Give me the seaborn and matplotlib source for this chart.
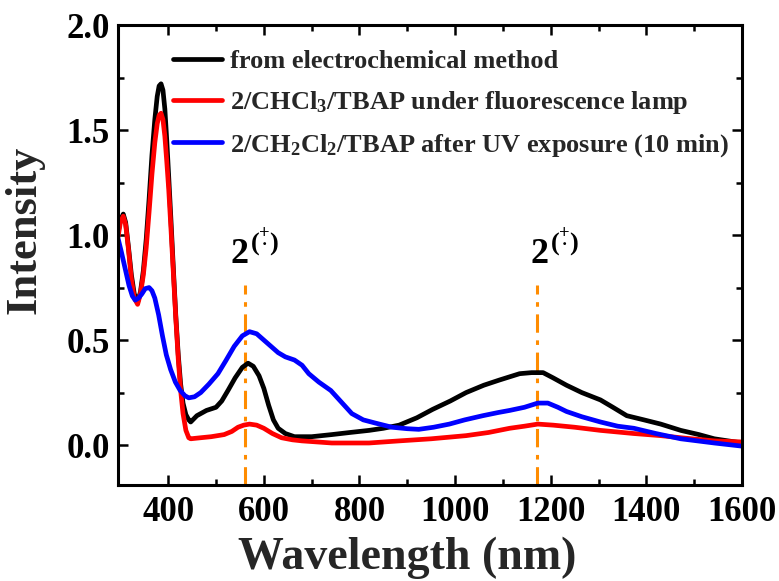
import numpy as np
import pandas as pd
import matplotlib
matplotlib.use("Agg")
import matplotlib.pyplot as plt
import seaborn as sns

# ---- data ----
wl_black = [295, 300, 306, 311, 317, 323, 329, 336, 342, 348, 354, 360, 366, 372, 377, 381, 385,
            389, 393, 397, 401, 406, 411, 416, 421, 426, 431, 437, 443, 447, 460, 480, 500, 512,
            525, 540, 555, 567, 578, 590, 600, 610, 620, 630, 645, 664, 700, 742, 780, 820, 850,
            883, 920, 953, 990, 1023, 1060, 1093, 1135, 1160, 1184, 1205, 1233, 1265, 1304, 1330,
            1359, 1395, 1430, 1472, 1510, 1542, 1600]
int_black = [1.01, 1.07, 1.10, 1.06, 0.94, 0.81, 0.72, 0.68, 0.73, 0.83, 0.98, 1.17, 1.38, 1.55,
             1.66, 1.71, 1.72, 1.69, 1.60, 1.45, 1.28, 1.06, 0.83, 0.61, 0.43, 0.29, 0.20, 0.145,
             0.12, 0.11, 0.14, 0.165, 0.18, 0.21, 0.26, 0.32, 0.37, 0.39, 0.375, 0.33, 0.27, 0.19,
             0.12, 0.08, 0.055, 0.04, 0.04, 0.05, 0.06, 0.07, 0.08, 0.095, 0.13, 0.17, 0.21, 0.25,
             0.285, 0.31, 0.34, 0.345, 0.345, 0.32, 0.285, 0.25, 0.215, 0.18, 0.14, 0.12, 0.10,
             0.07, 0.05, 0.03, 0.01]

wl_red = [295, 300, 306, 311, 317, 323, 329, 336, 342, 348, 354, 360, 366, 372, 377, 381, 385,
          389, 393, 397, 401, 406, 411, 416, 421, 426, 431, 437, 443, 447, 468, 490, 517, 533,
          546, 558, 570, 585, 600, 618, 637, 660, 680, 742, 820, 883, 950, 1023, 1070, 1114,
          1145, 1173, 1205, 1250, 1304, 1374, 1430, 1472, 1542, 1600]
int_red = [0.99, 1.06, 1.09, 1.05, 0.93, 0.79, 0.70, 0.67, 0.72, 0.81, 0.94, 1.11, 1.29, 1.44,
           1.53, 1.57, 1.58, 1.55, 1.47, 1.35, 1.22, 1.02, 0.81, 0.60, 0.41, 0.26, 0.15, 0.07,
           0.035, 0.03, 0.035, 0.04, 0.05, 0.065, 0.085, 0.095, 0.10, 0.095, 0.08, 0.055, 0.035,
           0.025, 0.02, 0.01, 0.01, 0.02, 0.03, 0.045, 0.06, 0.08, 0.09, 0.10, 0.095, 0.085,
           0.07, 0.055, 0.045, 0.035, 0.02, 0.015]

wl_blue = [295, 302, 310, 318, 325, 331, 338, 345, 352, 360, 366, 372, 380, 388, 396, 405, 415,
           425, 435, 443, 455, 468, 485, 504, 520, 538, 555, 570, 585, 600, 615, 630, 645, 664,
           680, 694, 715, 740, 760, 784, 808, 833, 868, 900, 924, 955, 988, 1020, 1058, 1090,
           1114, 1145, 1173, 1194, 1215, 1233, 1265, 1304, 1340, 1374, 1420, 1472, 1542, 1600]
int_blue = [0.985, 0.92, 0.84, 0.76, 0.71, 0.69, 0.70, 0.72, 0.745, 0.75, 0.735, 0.70, 0.62,
            0.52, 0.43, 0.36, 0.30, 0.26, 0.235, 0.225, 0.23, 0.25, 0.29, 0.34, 0.40, 0.47, 0.52,
            0.54, 0.53, 0.50, 0.47, 0.44, 0.42, 0.405, 0.38, 0.34, 0.30, 0.26, 0.21, 0.15, 0.12,
            0.105, 0.085, 0.078, 0.075, 0.085, 0.10, 0.12, 0.14, 0.155, 0.165, 0.18, 0.20, 0.20,
            0.18, 0.16, 0.135, 0.11, 0.09, 0.08, 0.055, 0.03, 0.01, -0.005]

labels = ["from electrochemical method",
          r"2/$\mathrm{CHCl_3}$/TBAP under fluorescence lamp",
          r"2/$\mathrm{CH_2Cl_2}$/TBAP after UV exposure (10 min)"]
colors = ["#000000", "#ff0000", "#0000ff"]
marker_wl = [560, 1172]
annot_left_wl = [531, 1158]
annot_base = "2"
annot_sup = r"$(\overset{+}{\cdot})$"

# ---- style ----
sns.set_theme(style="ticks")
plt.rcParams["font.family"] = ["Liberation Serif", "DejaVu Serif"]
plt.rcParams["font.weight"] = "bold"
plt.rcParams["mathtext.fontset"] = "custom"
plt.rcParams["mathtext.rm"] = "Liberation Serif:bold"
plt.rcParams["mathtext.it"] = "Liberation Serif:bold"
plt.rcParams["mathtext.bf"] = "Liberation Serif:bold"
plt.rcParams["mathtext.default"] = "rm"

fig = plt.figure(figsize=(7.79, 5.81), dpi=100)
ax = fig.add_axes([118 / 779, 1 - 485 / 581, (742 - 118) / 779, (485 - 25) / 581])

frames = []
for wl, it, lab in [(wl_black, int_black, labels[0]), (wl_red, int_red, labels[1]),
                    (wl_blue, int_blue, labels[2])]:
    frames.append(pd.DataFrame({"Wavelength": wl, "Intensity": it, "series": lab}))
df = pd.concat(frames, ignore_index=True)

sns.lineplot(data=df, x="Wavelength", y="Intensity", hue="series", hue_order=labels,
             palette=colors, linewidth=3.4, sort=True, estimator=None, ax=ax)

for m in marker_wl:
    ax.plot([m, m], [-0.19, 0.76], color="#ff8c00", linewidth=2.2, linestyle="-.",
            dashes=(6, 2.5, 1.5, 2.5), zorder=1)

# annotation "2" with radical-cation superscript (+ over a dot, in parentheses)
for xl in annot_left_wl:
    kw = dict(xy=(xl, 0.867), xycoords="data", textcoords="offset points", color="black",
              fontweight="bold")
    ax.annotate(annot_base, xytext=(0, 0), ha="left", va="baseline", fontsize=26, **kw)
    ax.annotate(annot_sup, xytext=(14.0, 8.5), ha="left", va="baseline", fontsize=19, **kw)

ax.set_xlim(295, 1600)
ax.set_ylim(-0.19, 2.0)
ax.set_xticks([400, 600, 800, 1000, 1200, 1400, 1600])
ax.set_xticks([500, 700, 900, 1100, 1300, 1500], minor=True)
ax.set_yticks([0.0, 0.5, 1.0, 1.5, 2.0])
ax.set_yticks([0.25, 0.75, 1.25, 1.75], minor=True)
ax.set_yticklabels(["0.0", "0.5", "1.0", "1.5", "2.0"])

for s in ax.spines.values():
    s.set_linewidth(2.2)
    s.set_color("black")
ax.tick_params(which="both", direction="in", top=True, right=True, width=1.8, colors="black")
ax.tick_params(which="major", length=7)
ax.tick_params(which="minor", length=4)
ax.tick_params(axis="x", which="major", labelsize=25, pad=8)
ax.tick_params(axis="y", which="major", labelsize=25, pad=6)
for t in ax.get_xticklabels() + ax.get_yticklabels():
    t.set_fontweight("bold")

ax.set_xlabel("Wavelength (nm)", fontsize=33, fontweight="bold")
ax.set_ylabel("Intensity", fontsize=32, fontweight="bold")
ax.xaxis.set_label_coords(0.463, -0.112)
ax.yaxis.set_label_coords(-0.118, 0.554)

leg = ax.legend(loc="upper left", bbox_to_anchor=(173 / 779, 1 - 50 / 581),
                bbox_transform=fig.transFigure, frameon=False, fontsize=19,
                handlelength=1.85, handletextpad=0.3, labelspacing=0.6,
                borderpad=0, borderaxespad=0)
for t in leg.get_texts():
    t.set_fontweight("bold")
for l in leg.get_lines():
    l.set_linewidth(3.4)

fig.savefig("out.png", dpi=100)
